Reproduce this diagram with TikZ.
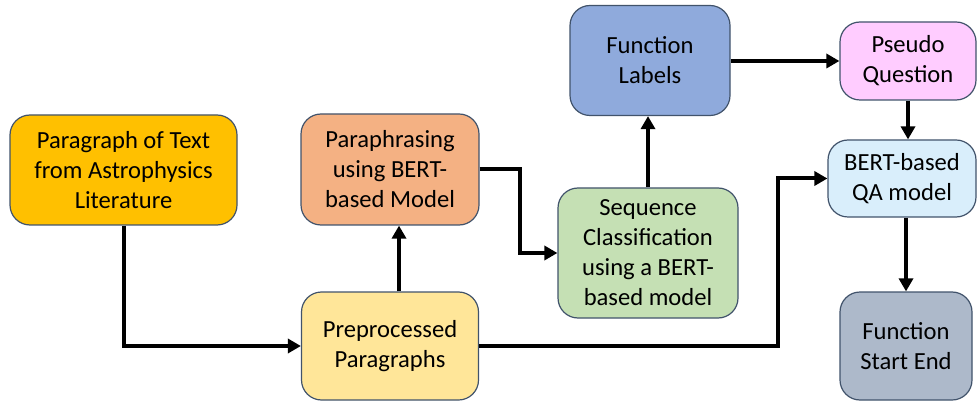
\documentclass[tikz,border=0pt]{standalone}
\usepackage{fontspec}
\setmainfont{Carlito}
\usetikzlibrary{arrows.meta,positioning}
\definecolor{Amber}{HTML}{FFC000}
\definecolor{Salmon}{HTML}{F4B183}
\definecolor{Butter}{HTML}{FFE699}
\definecolor{Sage}{HTML}{C5E0B4}
\definecolor{Cornflower}{HTML}{8FAADC}
\definecolor{Orchid}{HTML}{FFCCFF}
\definecolor{Sky}{HTML}{D9EEFB}
\definecolor{Steel}{HTML}{ADB9CA}
\definecolor{Outline}{HTML}{41536B}
\tikzset{
  stagebox/.style={draw=Outline, rounded corners=10pt, line width=0.6pt, align=center, inner sep=0pt, font=\fontsize{12.3}{15}\selectfont},
  arrow/.style={-{Triangle[length=6.5pt,width=7pt]}, line width=2pt, draw=black}
}
\begin{document}
\begin{tikzpicture}[x=0.5pt, y=-0.5pt]
  \useasboundingbox (0,0) rectangle (977,405);

  \node[stagebox, fill=Amber, minimum width=113.5pt, minimum height=55pt] (source) at (123.5,170) {Paragraph of Text\\from Astrophysics\\Literature};
  \node[stagebox, fill=Salmon, minimum width=89pt, minimum height=55.5pt] (paraphrase) at (390,169.5) {Paraphrasing\\using BERT-\\based Model};
  \node[stagebox, fill=Butter, minimum width=88.5pt, minimum height=54pt] (preproc) at (390,346) {Preprocessed\\Paragraphs};
  \node[stagebox, fill=Sage, minimum width=90pt, minimum height=65pt] (seqclass) at (648,253) {Sequence\\Classification\\using a BERT-\\based model};
  \node[stagebox, fill=Cornflower, minimum width=80pt, minimum height=55pt] (labels) at (650,60.5) {Function\\Labels};
  \node[stagebox, fill=Orchid, minimum width=68pt, minimum height=39pt] (pseudo) at (908,61) {Pseudo\\Question};
  \node[stagebox, fill=Sky, minimum width=74pt, minimum height=38.5pt] (qamodel) at (902,178.5) {BERT-based\\QA model};
  \node[stagebox, fill=Steel, minimum width=66pt, minimum height=54pt] (startend) at (906,346) {Function\\Start End};

  \draw[arrow] (source.south) |- (preproc.west);
  \draw[arrow] ([xshift=4.5pt]preproc.north) -- ([xshift=4.5pt]paraphrase.south);
  \draw[arrow] (paraphrase.east) -- ++(40,0) |- (seqclass.west);
  \draw[arrow] (seqclass.north) -- (seqclass.north |- labels.south);
  \draw[arrow] (labels.east |- pseudo.west) -- (pseudo.west);
  \draw[arrow] (pseudo.south) -- (pseudo.south |- qamodel.north);
  \draw[arrow] (preproc.east) -- ++(299,0) |- (qamodel.west);
  \draw[arrow] (startend.north |- qamodel.south) -- (startend.north);
\end{tikzpicture}
\end{document}
